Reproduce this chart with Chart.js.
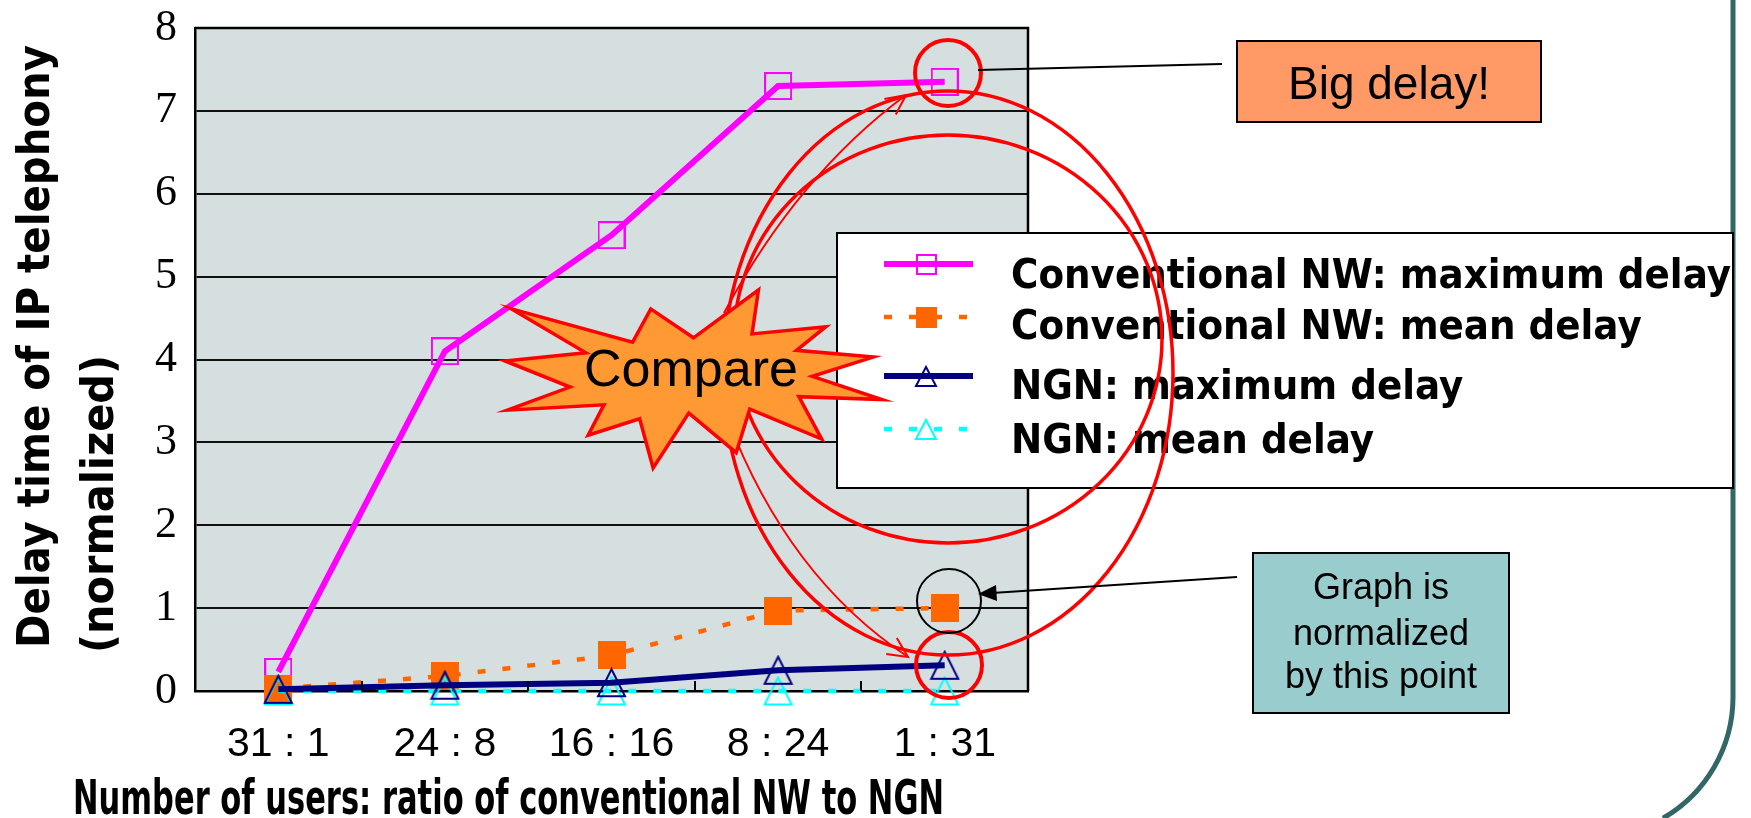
<!DOCTYPE html>
<html>
<head>
<meta charset="utf-8">
<script src="https://cdn.jsdelivr.net/npm/chart.js@4.4.1/dist/chart.umd.min.js"></script>
<style>
  html, body { margin: 0; padding: 0; background: #fff; overflow: hidden; }
  #delayChart { display: block; }
</style>
</head>
<body>
<canvas id="delayChart" width="1751" height="818"></canvas>
<script>
// values (normalized by the 1:31 conventional mean point)
const ratioLabels = ['31 : 1', '24 : 8', '16 : 16', '8 : 24', '1 : 31'];
const convMaxDelay = [0.23, 4.1, 5.5, 7.3, 7.35];
const convMeanDelay = [0.03, 0.18, 0.43, 0.97, 1.0];
const ngnMaxDelay = [0.02, 0.07, 0.1, 0.25, 0.31];
const ngnMeanDelay = [0, 0, 0, 0, 0];
const seriesNames = [
  'Conventional NW: maximum delay',
  'Conventional NW: mean delay',
  'NGN: maximum delay',
  'NGN: mean delay'
];
const yMin = 0, yMax = 8, yStep = 1;

const BOLD = '"DejaVu Sans", "Liberation Sans", sans-serif';
const PLAIN = '"Liberation Sans", Arial, sans-serif';

// marker images (pointStyle accepts a canvas)
function openSquare(color, side) {
  const c = document.createElement('canvas');
  c.width = side + 2; c.height = side + 2;
  const g = c.getContext('2d');
  g.strokeStyle = color; g.lineWidth = 2;
  g.strokeRect(1, 1, side, side);
  return c;
}
function filledSquare(color, side) {
  const c = document.createElement('canvas');
  c.width = side; c.height = side;
  const g = c.getContext('2d');
  g.fillStyle = color;
  g.fillRect(0, 0, side, side);
  return c;
}
function openTriangle(color, w, h) {
  const c = document.createElement('canvas');
  c.width = w + 4; c.height = h + 4;
  const g = c.getContext('2d');
  g.strokeStyle = color; g.lineWidth = 2; g.lineJoin = 'miter';
  g.beginPath();
  g.moveTo(c.width / 2, 2);
  g.lineTo(c.width - 2, c.height - 2);
  g.lineTo(2, c.height - 2);
  g.closePath();
  g.stroke();
  return c;
}

const markers = [
  openSquare('#FF00FF', 26),
  filledSquare('#FF6600', 28),
  openTriangle('#000080', 27, 27),
  openTriangle('#00FFFF', 27, 27)
];
const legendMarkers = [
  openSquare('#FF00FF', 19),
  filledSquare('#FF6600', 21),
  openTriangle('#000080', 20, 19),
  openTriangle('#00FFFF', 20, 19)
];

// text squeezed/stretched along its direction to a given length
function fitText(ctx, text, x, y, len, font, rotated) {
  ctx.save();
  ctx.font = font;
  const w = ctx.measureText(text).width;
  ctx.translate(x, y);
  if (rotated) ctx.rotate(-Math.PI / 2);
  ctx.scale(len / w, 1);
  ctx.textAlign = 'left';
  ctx.textBaseline = 'alphabetic';
  ctx.fillStyle = '#000';
  ctx.fillText(text, 0, 0);
  ctx.restore();
}

function centerText(ctx, text, x, y, font) {
  ctx.save();
  ctx.font = font;
  ctx.fillStyle = '#000';
  ctx.textAlign = 'center';
  ctx.textBaseline = 'alphabetic';
  ctx.fillText(text, x, y);
  ctx.restore();
}

function box(ctx, x, y, w, h, fill) {
  ctx.save();
  ctx.fillStyle = fill;
  ctx.fillRect(x, y, w, h);
  ctx.strokeStyle = '#000';
  ctx.lineWidth = 2;
  ctx.strokeRect(x, y, w, h);
  ctx.restore();
}

function ellipse(ctx, cx, cy, rx, ry, color, lw) {
  ctx.save();
  ctx.strokeStyle = color;
  ctx.lineWidth = lw;
  ctx.beginPath();
  ctx.ellipse(cx, cy, rx, ry, 0, 0, Math.PI * 2);
  ctx.stroke();
  ctx.restore();
}

function curvedArrow(ctx, x0, y0, cx, cy, x1, y1) {
  ctx.save();
  ctx.strokeStyle = '#FF0000';
  ctx.lineWidth = 2;
  ctx.beginPath();
  ctx.moveTo(x0, y0);
  ctx.quadraticCurveTo(cx, cy, x1, y1);
  ctx.stroke();
  const a = Math.atan2(y1 - cy, x1 - cx);
  ctx.beginPath();
  ctx.moveTo(x1 - 22 * Math.cos(a - 0.45), y1 - 22 * Math.sin(a - 0.45));
  ctx.lineTo(x1, y1);
  ctx.lineTo(x1 - 22 * Math.cos(a + 0.45), y1 - 22 * Math.sin(a + 0.45));
  ctx.stroke();
  ctx.restore();
}

// PowerPoint "explosion 1" outline, 21600 units
const sealPts = [
  [10800, 5800], [14522, 0], [14155, 5325], [18380, 4457], [16702, 7315],
  [21097, 8137], [17607, 10475], [21600, 13290], [16837, 12942], [18145, 18095],
  [14020, 14457], [13247, 19737], [10532, 14935], [8485, 21600], [7715, 15627],
  [4762, 17617], [5667, 13937], [135, 14587], [3722, 11775], [0, 8615],
  [4627, 7617], [370, 2295], [7312, 6320], [8352, 2295]
];

const slidePlugin = {
  id: 'slide',
  beforeDraw(chart) {
    const { ctx, chartArea: a } = chart;
    ctx.save();
    ctx.fillStyle = '#fff';
    ctx.fillRect(0, 0, chart.width, chart.height);
    ctx.fillStyle = '#D6DFDF';
    ctx.fillRect(a.left, a.top, a.right - a.left, a.bottom - a.top);
    ctx.restore();
  },
  afterDraw(chart) {
    const { ctx, chartArea: a } = chart;
    const xs = chart.scales.x;

    // top and right frame of the plot
    ctx.save();
    ctx.strokeStyle = '#000';
    ctx.lineWidth = 2.5;
    ctx.beginPath();
    ctx.moveTo(a.left, a.top);
    ctx.lineTo(a.right, a.top);
    ctx.lineTo(a.right, a.bottom);
    ctx.stroke();
    // short inside ticks between categories
    ctx.lineWidth = 2;
    for (let i = 0; i < ratioLabels.length - 1; i++) {
      const x = Math.round((xs.getPixelForValue(i) + xs.getPixelForValue(i + 1)) / 2);
      ctx.beginPath();
      ctx.moveTo(x, a.bottom);
      ctx.lineTo(x, a.bottom - 10);
      ctx.stroke();
    }
    ctx.restore();

    // slide frame on the right
    ctx.save();
    ctx.strokeStyle = '#336666';
    ctx.lineWidth = 5;
    ctx.beginPath();
    ctx.moveTo(1733, 0);
    ctx.lineTo(1733, 697);
    ctx.arc(1593, 697, 140, 0, Math.PI / 3);
    ctx.stroke();
    ctx.restore();

    // legend box
    box(ctx, 837, 233, 896, 255, '#fff');
    const rowY = [264, 317, 376, 429];
    const rowBase = [288, 339, 399, 453];
    const legFont = 'bold 41px ' + BOLD;
    ctx.save();
    ctx.font = legFont;
    const squeeze = 720 / ctx.measureText(seriesNames[0]).width;
    ctx.restore();
    chart.data.datasets.forEach((ds, i) => {
      ctx.save();
      ctx.strokeStyle = ds.borderColor;
      ctx.lineWidth = ds.borderWidth;
      ctx.setLineDash(ds.borderDash || []);
      ctx.beginPath();
      ctx.moveTo(884, rowY[i]);
      ctx.lineTo(973, rowY[i]);
      ctx.stroke();
      const m = legendMarkers[i];
      ctx.drawImage(m, Math.round(926 - m.width / 2), Math.round(rowY[i] - m.height / 2));
      ctx.restore();
      ctx.save();
      ctx.font = legFont;
      const w = ctx.measureText(ds.label).width;
      ctx.restore();
      fitText(ctx, ds.label, 1011, rowBase[i], w * squeeze, legFont, false);
    });

    // red highlight rings and the two large ellipses
    ellipse(ctx, 948, 373, 225, 282, '#FF0000', 3.5);
    ellipse(ctx, 948, 339, 214, 204, '#FF0000', 3.5);
    ellipse(ctx, 948, 73, 33, 33, '#FF0000', 4);
    ellipse(ctx, 949, 665, 33, 33, '#FF0000', 4);
    ellipse(ctx, 949, 601, 32, 32, '#000', 2);

    // thin red arrows from the star
    curvedArrow(ctx, 724, 313, 798, 175, 906, 95);
    curvedArrow(ctx, 728, 420, 788, 577, 908, 657);

    // "Compare" explosion
    const sx = 505, sy = 290, sw = 377, sh = 178;
    ctx.save();
    ctx.beginPath();
    sealPts.forEach(([px, py], k) => {
      const x = sx + px / 21600 * sw, y = sy + py / 21600 * sh;
      if (k === 0) ctx.moveTo(x, y); else ctx.lineTo(x, y);
    });
    ctx.closePath();
    ctx.fillStyle = '#FF9933';
    ctx.fill();
    ctx.strokeStyle = '#FF0000';
    ctx.lineWidth = 3.5;
    ctx.lineJoin = 'miter';
    ctx.stroke();
    ctx.restore();
    centerText(ctx, 'Compare', 691, 386, '52px ' + PLAIN);

    // callout boxes with leader lines
    ctx.save();
    ctx.strokeStyle = '#000';
    ctx.lineWidth = 2;
    ctx.beginPath();
    ctx.moveTo(978, 70);
    ctx.lineTo(1222, 64);
    ctx.moveTo(1237, 577);
    ctx.lineTo(992, 593);
    ctx.stroke();
    ctx.fillStyle = '#000';
    ctx.beginPath();
    ctx.moveTo(978, 594);
    ctx.lineTo(996, 585);
    ctx.lineTo(997, 601);
    ctx.closePath();
    ctx.fill();
    ctx.restore();

    box(ctx, 1237, 41, 304, 81, '#FF9966');
    centerText(ctx, 'Big delay!', 1389, 99, '46px ' + PLAIN);

    box(ctx, 1253, 553, 256, 160, '#99CCCC');
    centerText(ctx, 'Graph is', 1381, 599, '36px ' + PLAIN);
    centerText(ctx, 'normalized', 1381, 645, '36px ' + PLAIN);
    centerText(ctx, 'by this point', 1381, 688, '36px ' + PLAIN);

    // axis titles
    fitText(ctx, 'Delay time of IP telephony', 49, 648, 603, 'bold 45px ' + BOLD, true);
    fitText(ctx, '(normalized)', 113, 653, 298, 'bold 45px ' + BOLD, true);
    fitText(ctx, 'Number of users: ratio of conventional NW to NGN', 73, 814, 871, 'bold 48px ' + BOLD, false);
  }
};

new Chart(document.getElementById('delayChart'), {
  type: 'line',
  data: {
    labels: ratioLabels,
    datasets: [
      {
        label: seriesNames[0], data: convMaxDelay,
        borderColor: '#FF00FF', borderWidth: 6,
        pointStyle: markers[0], pointRadius: 14, order: 4, clip: false
      },
      {
        label: seriesNames[1], data: convMeanDelay,
        borderColor: '#FF6600', borderWidth: 4.5, borderDash: [8, 17],
        pointStyle: markers[1], pointRadius: 14, order: 3, clip: false
      },
      {
        label: seriesNames[2], data: ngnMaxDelay,
        borderColor: '#000080', borderWidth: 6,
        pointStyle: markers[2], pointRadius: 14, order: 1, clip: false
      },
      {
        label: seriesNames[3], data: ngnMeanDelay,
        borderColor: '#00FFFF', borderWidth: 4.5, borderDash: [8, 17],
        pointStyle: markers[3], pointRadius: 14, order: 2, clip: false
      }
    ]
  },
  options: {
    responsive: false,
    animation: false,
    devicePixelRatio: 1,
    layout: { padding: { top: 28, right: 723, bottom: 0, left: 0 } },
    elements: { line: { tension: 0, fill: false } },
    plugins: { legend: { display: false }, tooltip: { enabled: false } },
    scales: {
      x: {
        offset: true,
        grid: { display: false, drawTicks: false },
        border: { display: true, color: '#000', width: 2.5 },
        ticks: { color: '#000', font: { family: 'Liberation Sans', size: 41 }, padding: 29, maxRotation: 0 },
        afterFit: s => { s.height = 127; s.paddingLeft = 0; s.paddingRight = 0; }
      },
      y: {
        min: yMin, max: yMax,
        grid: { color: '#111', lineWidth: 2, drawTicks: false },
        border: { display: true, color: '#000', width: 2.5 },
        ticks: { stepSize: yStep, color: '#000', font: { family: 'Liberation Serif', size: 44 }, padding: 18 },
        afterFit: s => { s.width = 195; s.paddingTop = 0; s.paddingBottom = 0; }
      }
    }
  },
  plugins: [slidePlugin]
});
</script>
</body>
</html>
